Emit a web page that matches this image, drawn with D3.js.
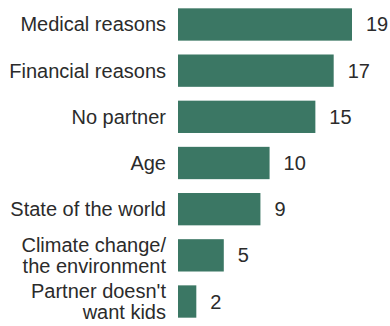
<!DOCTYPE html>
<html>
<head>
<meta charset="utf-8">
<script src="https://cdn.jsdelivr.net/npm/d3@7"></script>
<style>
  body { margin: 0; background: #fff; }
  svg text { font-family: "Liberation Sans", Arial, sans-serif; fill: #2b2b2b; }
</style>
</head>
<body>
<svg id="chart"></svg>
<script>
(function (d3) {
    'use strict';

    // reasons (label lines) and share of respondents
    var categories = [
        ['Medical reasons'],
        ['Financial reasons'],
        ['No partner'],
        ['Age'],
        ['State of the world'],
        ['Climate change/', 'the environment'],
        ["Partner doesn't", 'want kids']
    ];
    var values = [19, 17, 15, 10, 9, 5, 2];

    var width = 390,
        height = 326,
        margin = { top: 1.4, right: 38, bottom: 1.4, left: 178 };

    var fontSize = 20,
        lineHeight = 21;

    var svg = d3.select('#chart')
        .attr('width', width)
        .attr('height', height);

    var x = d3.scaleLinear()
        .domain([0, d3.max(values)])
        .range([margin.left, width - margin.right]);

    var y = d3.scaleBand()
        .domain(d3.range(values.length))
        .range([margin.top, height - margin.bottom])
        .paddingInner(0.3)
        .paddingOuter(0.15);

    var rows = svg.selectAll('.row')
        .data(values)
        .enter()
        .append('g')
        .attr('class', 'row');

    rows.append('rect')
        .attr('x', x(0))
        .attr('y', function (d, i) { return y(i); })
        .attr('width', function (d) { return x(d) - x(0); })
        .attr('height', y.bandwidth())
        .attr('fill', '#3b7764');

    rows.append('text')
        .attr('x', function (d) { return x(d) + 14; })
        .attr('y', function (d, i) { return y(i) + y.bandwidth() / 2 + 7; })
        .style('font-size', fontSize + 'px')
        .text(function (d) { return d; });

    var labels = rows.append('text')
        .attr('text-anchor', 'end')
        .style('font-size', fontSize + 'px')
        .attr('y', function (d, i) {
            var n = categories[i].length;
            return y(i) + y.bandwidth() / 2 + 7 - (n - 1) * lineHeight / 2;
        });

    labels.selectAll('tspan')
        .data(function (d, i) { return categories[i]; })
        .enter()
        .append('tspan')
        .attr('x', 166)
        .attr('dy', function (d, j) { return j === 0 ? 0 : lineHeight; })
        .text(function (d) { return d; });

})(window.d3);
</script>
</body>
</html>
